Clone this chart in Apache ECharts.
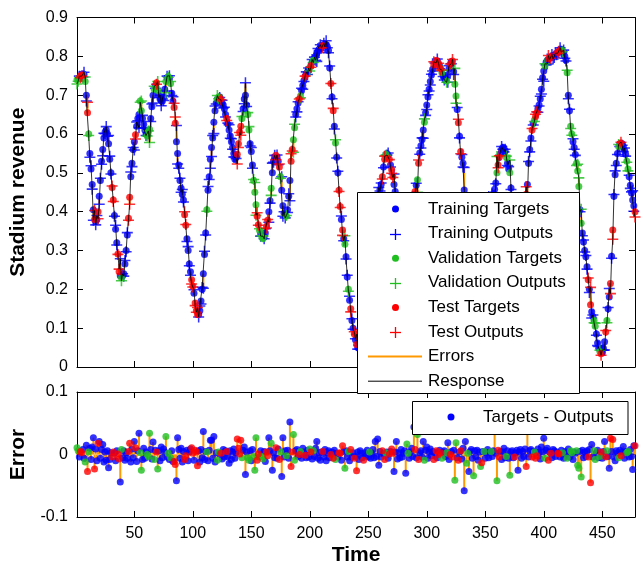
<!DOCTYPE html>
<html><head><meta charset="utf-8">
<script src="https://cdn.jsdelivr.net/npm/echarts@6/dist/echarts.min.js"></script>
<style>html,body{margin:0;padding:0;background:#fff}#c{width:641px;height:568px}</style>
</head><body><div id="c"></div>
<script>
// Targets (t = 1..478)
const targets = [
0.740,0.742,0.745,0.750,0.752,0.755,0.753,0.735,0.700,0.655,
0.600,0.550,0.510,0.470,0.405,0.380,0.375,0.380,0.400,0.440,
0.480,0.530,0.560,0.590,0.605,0.610,0.600,0.575,0.535,0.500,
0.462,0.430,0.390,0.355,0.320,0.291,0.245,0.235,0.230,0.235,
0.240,0.265,0.300,0.340,0.383,0.437,0.490,0.525,0.560,0.580,
0.598,0.620,0.640,0.650,0.685,0.660,0.640,0.625,0.610,0.600,
0.595,0.605,0.612,0.640,0.670,0.700,0.715,0.725,0.732,0.712,
0.700,0.690,0.685,0.685,0.695,0.715,0.735,0.745,0.748,0.742,
0.730,0.705,0.685,0.668,0.628,0.580,0.550,0.520,0.480,0.460,
0.445,0.430,0.392,0.365,0.330,0.300,0.265,0.245,0.225,0.208,
0.190,0.165,0.145,0.135,0.135,0.145,0.170,0.200,0.240,0.290,
0.345,0.405,0.455,0.490,0.535,0.565,0.590,0.630,0.660,0.680,
0.690,0.695,0.695,0.690,0.680,0.675,0.665,0.650,0.640,0.625,
0.610,0.595,0.580,0.565,0.550,0.535,0.540,0.548,0.575,0.605,
0.620,0.640,0.665,0.690,0.700,0.675,0.650,0.610,0.575,0.555,
0.520,0.480,0.450,0.418,0.388,0.366,0.352,0.343,0.335,0.330,
0.335,0.345,0.362,0.378,0.400,0.428,0.460,0.500,0.530,0.540,
0.545,0.540,0.530,0.515,0.490,0.455,0.415,0.396,0.390,0.388,
0.405,0.440,0.480,0.530,0.560,0.585,0.616,0.650,0.665,0.680,
0.690,0.698,0.712,0.725,0.738,0.748,0.755,0.760,0.766,0.771,
0.776,0.785,0.790,0.795,0.800,0.808,0.814,0.818,0.821,0.825,
0.827,0.830,0.832,0.830,0.825,0.815,0.770,0.730,0.695,0.660,
0.620,0.577,0.540,0.500,0.455,0.413,0.380,0.353,0.330,0.316,
0.284,0.232,0.200,0.172,0.150,0.120,0.100,0.085,0.070,0.058,
0.050,0.048,0.052,0.062,0.078,0.098,0.120,0.145,0.170,0.200,
0.230,0.260,0.290,0.320,0.350,0.380,0.410,0.430,0.445,0.458,
0.470,0.490,0.515,0.535,0.548,0.550,0.545,0.535,0.520,0.508,
0.490,0.470,0.452,0.430,0.410,0.390,0.372,0.358,0.348,0.342,
0.345,0.355,0.368,0.382,0.398,0.412,0.425,0.436,0.444,0.452,
0.468,0.482,0.525,0.551,0.570,0.586,0.610,0.630,0.655,0.675,
0.695,0.715,0.735,0.752,0.767,0.778,0.786,0.789,0.788,0.782,
0.775,0.768,0.758,0.752,0.745,0.741,0.736,0.752,0.768,0.780,
0.786,0.788,0.760,0.728,0.698,0.663,0.629,0.594,0.555,0.540,
0.525,0.456,0.420,0.390,0.360,0.330,0.300,0.280,0.262,0.248,
0.238,0.232,0.236,0.250,0.270,0.292,0.320,0.350,0.378,0.400,
0.418,0.428,0.434,0.438,0.440,0.443,0.447,0.458,0.474,0.500,
0.520,0.540,0.550,0.560,0.565,0.564,0.556,0.540,0.525,0.510,
0.500,0.461,0.430,0.405,0.385,0.372,0.366,0.368,0.378,0.390,
0.400,0.410,0.420,0.432,0.445,0.470,0.525,0.560,0.590,0.610,
0.628,0.636,0.645,0.655,0.665,0.675,0.690,0.715,0.745,0.762,
0.775,0.785,0.790,0.793,0.795,0.797,0.800,0.801,0.803,0.805,
0.808,0.810,0.814,0.818,0.818,0.815,0.810,0.800,0.790,0.758,
0.700,0.660,0.620,0.600,0.580,0.565,0.547,0.525,0.505,0.465,
0.405,0.370,0.345,0.322,0.300,0.284,0.258,0.225,0.200,0.160,
0.142,0.130,0.120,0.105,0.085,0.062,0.048,0.040,0.034,0.038,
0.048,0.065,0.090,0.120,0.150,0.180,0.215,0.285,0.353,0.440,
0.495,0.525,0.550,0.568,0.575,0.577,0.575,0.568,0.558,0.548,
0.530,0.510,0.490,0.468,0.448,0.430,0.415,0.400];

// Errors = Targets - Outputs (t = 1..478)
const errors = [
0.011,0.006,-0.004,0.005,0.003,0.008,-0.006,-0.012,0.015,-0.027,
0.004,0.010,-0.008,0.012,0.027,-0.023,0.009,-0.010,0.018,0.021,
-0.006,0.008,0.016,-0.012,0.004,-0.009,0.006,-0.021,-0.008,0.003,
-0.004,0.004,0.002,-0.010,0.006,0.001,-0.007,-0.044,0.008,-0.005,
0.006,-0.009,0.003,-0.006,0.005,0.018,-0.012,0.009,-0.005,0.021,
0.011,-0.011,0.006,0.034,0.003,-0.025,-0.008,0.010,-0.006,0.004,
0.000,-0.003,0.034,0.008,-0.007,0.020,-0.008,0.007,0.004,-0.023,
0.006,-0.010,0.012,-0.005,0.009,0.004,0.029,-0.004,0.002,-0.008,
-0.005,0.006,-0.011,-0.011,-0.016,-0.042,0.027,0.008,-0.006,0.010,
-0.012,0.005,-0.008,-0.002,0.007,-0.010,0.004,0.009,0.011,0.002,
-0.009,0.007,0.004,-0.018,0.006,-0.012,0.008,-0.005,0.037,-0.008,
0.005,0.004,-0.010,0.007,0.023,0.023,-0.006,0.029,-0.012,0.003,
-0.009,0.004,0.001,0.002,-0.007,0.008,-0.004,0.006,0.005,-0.003,
-0.014,0.006,-0.008,0.004,0.009,-0.006,0.003,0.025,0.010,0.001,
0.023,-0.005,0.007,0.012,-0.032,0.004,-0.005,-0.009,0.006,-0.010,
0.008,-0.003,-0.025,0.027,-0.009,0.001,-0.004,0.006,-0.003,-0.007,
0.005,-0.011,0.004,-0.002,0.027,0.006,0.018,-0.025,0.003,-0.005,
0.011,-0.006,0.009,-0.008,0.004,-0.035,0.027,-0.004,0.006,-0.002,
0.007,-0.006,0.052,-0.019,0.004,0.032,-0.009,0.006,0.008,-0.003,
0.000,0.005,-0.006,0.010,0.003,-0.001,-0.005,0.007,-0.004,0.009,
0.004,-0.007,0.006,-0.003,0.010,0.021,-0.006,0.003,-0.009,0.004,
0.005,-0.004,0.008,-0.010,0.003,0.006,-0.005,0.000,0.004,-0.006,
0.007,-0.008,0.002,-0.004,0.003,0.002,-0.009,0.014,0.005,-0.022,
0.006,-0.004,0.005,-0.010,0.008,-0.004,0.003,-0.006,-0.003,-0.026,
0.004,-0.008,0.006,0.002,-0.005,-0.009,0.003,-0.002,0.007,-0.004,
0.004,-0.006,0.002,0.008,-0.005,0.021,-0.003,0.025,-0.017,0.005,
-0.004,0.006,0.002,-0.008,0.003,0.004,-0.006,0.001,0.005,0.009,
0.002,-0.027,0.004,0.021,-0.007,0.003,-0.005,0.008,-0.004,0.002,
0.006,-0.030,0.017,0.002,-0.006,0.004,0.010,-0.003,0.044,0.008,
-0.005,0.032,-0.008,0.003,0.006,-0.004,0.021,-0.009,0.007,0.012,
-0.006,0.004,0.009,-0.002,0.005,-0.008,0.003,0.006,-0.005,0.000,
0.007,0.003,-0.006,0.004,0.006,-0.003,0.003,0.019,-0.008,0.000,
0.005,-0.004,0.007,-0.041,0.019,-0.005,-0.009,0.004,0.006,-0.007,
0.010,-0.058,0.021,-0.014,0.002,-0.027,0.005,0.008,-0.006,-0.034,
0.006,-0.003,0.007,-0.009,0.004,-0.019,-0.013,0.005,0.005,-0.006,
0.003,0.008,-0.005,0.004,0.005,-0.003,0.006,0.040,0.002,-0.042,
0.007,-0.004,0.005,-0.008,0.004,0.010,-0.005,-0.003,0.006,-0.006,
-0.033,0.004,0.006,-0.005,-0.004,0.003,0.007,-0.025,0.004,0.008,
-0.006,0.005,-0.003,0.009,-0.019,0.037,-0.004,0.006,0.008,-0.004,
0.005,0.004,-0.006,-0.002,0.009,0.003,-0.007,0.012,0.004,0.026,
-0.006,0.007,0.010,-0.009,0.004,0.002,-0.005,0.008,0.006,-0.003,
0.004,0.002,0.001,-0.004,0.007,0.003,-0.006,0.005,0.002,-0.006,
0.009,-0.004,0.006,0.003,-0.008,0.004,0.002,0.006,-0.017,-0.022,
0.005,-0.036,0.007,-0.005,0.004,-0.003,0.006,-0.004,0.008,-0.045,
0.016,-0.004,0.006,-0.008,0.003,0.007,-0.005,-0.003,0.004,-0.006,
0.005,0.021,-0.004,0.006,-0.003,-0.022,0.026,0.005,0.024,-0.004,
-0.010,0.006,0.003,-0.005,0.007,-0.002,0.004,0.013,-0.006,0.005,
0.003,0.005,-0.004,0.008,-0.003,-0.024,0.014,0.014];

// Time steps used for validation and test (the rest are training)
const valIdx = [1,2,8,11,39,55,56,61,62,63,67,70,77,79,81,112,121,122,142,147,148,152,153,154,157,159,160,167,175,180,186,187,192,200,203,222,230,233,251,265,283,284,292,298,313,317,324,325,334,335,340,346,349,355,360,368,371,392,401,416,420,423,424,428,429,430,432,443,444,448,454,464,471,472];
const testIdx = [4,5,10,16,19,31,32,36,37,45,46,51,69,84,85,93,94,99,100,102,103,104,124,129,138,139,140,141,155,156,163,164,171,174,184,185,191,196,201,211,218,220,225,226,228,235,238,240,246,262,264,268,270,271,290,293,306,308,310,312,320,322,327,329,347,361,362,375,385,390,393,394,404,406,412,413,438,440,449,453,457,459,466,478];

const xTicks = [50,100,150,200,250,300,350,400,450];
const legendLabels = ['Training Targets','Training Outputs','Validation Targets','Validation Outputs','Test Targets','Test Outputs','Errors','Response'];
const errLegendLabel = 'Targets - Outputs';

const FONT = "'Liberation Sans', Arial, Helvetica, sans-serif";
const C = {train:'#0000ff', val:'#1fbf1f', test:'#ff0000', err:'#ff9900'};
const PLUS = 'path://M4.3,0H5.7V4.3H10V5.7H5.7V10H4.3V5.7H0V4.3H4.3Z';

const rows = targets.map((y, i) => {
  const t = i + 1, e = errors[i];
  return {t, y, e, o: +(y - e).toFixed(4),
    set: testIdx.includes(t) ? 'test' : (valIdx.includes(t) ? 'val' : 'train')};
});
const pick = s => rows.filter(r => r.set === s);

function xAxisDef(grid, pos, labels, name) {
  return {
    type: 'value', gridIndex: grid, position: pos, min: 1, max: 478,
    axisLine: {show: true, onZero: false, lineStyle: {color: '#000', width: 1}},
    axisTick: {show: true, inside: true, length: 6, customValues: xTicks, lineStyle: {color: '#000'}},
    axisLabel: labels ? {show: true, customValues: xTicks, margin: 9, color: '#000', fontSize: 16, fontFamily: FONT} : {show: false},
    splitLine: {show: false},
    name: name || '', nameLocation: 'middle', nameGap: 28,
    nameTextStyle: {color: '#000', fontSize: 21, fontWeight: 'bold', fontFamily: FONT}
  };
}
function yAxisDef(grid, pos, min, max, labels, name) {
  return {
    type: 'value', gridIndex: grid, position: pos, min, max, interval: 0.1,
    axisLine: {show: true, onZero: false, lineStyle: {color: '#000', width: 1}},
    axisTick: {show: true, inside: true, length: 6, lineStyle: {color: '#000'}},
    axisLabel: labels ? {show: true, margin: 9, color: '#000', fontSize: 16, fontFamily: FONT} : {show: false},
    splitLine: {show: false},
    name: name || '', nameLocation: 'middle', nameGap: 48,
    nameTextStyle: {color: '#000', fontSize: 21, fontWeight: 'bold', fontFamily: FONT}
  };
}

const series = [];
// Errors in response plot
series.push({
  type: 'custom', name: 'Errors', xAxisIndex: 0, yAxisIndex: 0,
  data: rows.map(r => [r.t, r.y, r.o]), encode: {x: 0, y: [1, 2]},
  renderItem: (p, api) => {
    const a = api.coord([api.value(0), api.value(1)]);
    const b = api.coord([api.value(0), api.value(2)]);
    return {type: 'line', shape: {x1: a[0], y1: a[1], x2: b[0], y2: b[1]}, style: {stroke: C.err, lineWidth: 2}};
  }
});
[['train','Training'],['val','Validation'],['test','Test']].forEach(([s, lab]) => {
  const d = pick(s);
  series.push({type: 'scatter', name: lab + ' Targets', xAxisIndex: 0, yAxisIndex: 0,
    symbol: 'circle', symbolSize: 7, itemStyle: {color: C[s]},
    data: d.map(r => [r.t, r.y])});
  series.push({type: 'scatter', name: lab + ' Outputs', xAxisIndex: 0, yAxisIndex: 0,
    symbol: PLUS, symbolSize: 11, itemStyle: {color: C[s]},
    data: d.map(r => [r.t, r.o])});
});
series.push({type: 'line', name: 'Response', xAxisIndex: 0, yAxisIndex: 0,
  showSymbol: false, symbol: 'none', lineStyle: {color: '#000', width: 0.8},
  data: rows.map(r => [r.t, r.o])});

// Error plot
series.push({
  type: 'custom', name: 'Error stems', xAxisIndex: 2, yAxisIndex: 2,
  data: rows.map(r => [r.t, 0, r.e]), encode: {x: 0, y: [1, 2]},
  renderItem: (p, api) => {
    const a = api.coord([api.value(0), api.value(1)]);
    const b = api.coord([api.value(0), api.value(2)]);
    return {type: 'line', shape: {x1: a[0], y1: a[1], x2: b[0], y2: b[1]}, style: {stroke: C.err, lineWidth: 2}};
  }
});
['train','val','test'].forEach(s => {
  series.push({type: 'scatter', name: 'Targets - Outputs ' + s, xAxisIndex: 2, yAxisIndex: 2,
    symbol: 'circle', symbolSize: 7, itemStyle: {color: C[s]},
    data: pick(s).map(r => [r.t, r.e])});
});

// Legends drawn as graphic elements
const g = [];
const LX = 357.5, LY = 192.5, LW = 222, LH = 201;
g.push({type: 'rect', z: 100, shape: {x: LX, y: LY, width: LW, height: LH}, style: {fill: '#fff', stroke: '#000', lineWidth: 1}});
const icx = 395.5, tx = 428;
const rowY = i => 209 + i * 24.6;
const iconColors = [C.train, C.train, C.val, C.val, C.test, C.test];
legendLabels.forEach((lab, i) => {
  const y = rowY(i);
  if (i < 6) {
    if (i % 2 === 0) {
      g.push({type: 'circle', z: 101, shape: {cx: icx, cy: y, r: 3.5}, style: {fill: iconColors[i]}});
    } else {
      const yc = Math.round(y) + 0.5;
      g.push({type: 'line', z: 101, shape: {x1: icx - 5.5, y1: yc, x2: icx + 5.5, y2: yc}, style: {stroke: iconColors[i], lineWidth: 1.3}});
      g.push({type: 'line', z: 101, shape: {x1: icx, y1: yc - 5.5, x2: icx, y2: yc + 5.5}, style: {stroke: iconColors[i], lineWidth: 1.3}});
    }
  } else if (i === 6) {
    g.push({type: 'line', z: 101, shape: {x1: 368, y1: y, x2: 422, y2: y}, style: {stroke: C.err, lineWidth: 2}});
  } else {
    g.push({type: 'line', z: 101, shape: {x1: 368, y1: y, x2: 422, y2: y}, style: {stroke: '#000', lineWidth: 1}});
  }
  g.push({type: 'text', z: 101, x: tx, y: y, style: {text: lab, fill: '#000', fontSize: 17, fontFamily: FONT, verticalAlign: 'middle', align: 'left'}});
});
g.push({type: 'rect', z: 100, shape: {x: 412.5, y: 401.5, width: 215.5, height: 33}, style: {fill: '#fff', stroke: '#000', lineWidth: 1}});
g.push({type: 'circle', z: 101, shape: {cx: 451, cy: 417, r: 3.5}, style: {fill: C.train}});
g.push({type: 'text', z: 101, x: 483, y: 417.5, style: {text: errLegendLabel, fill: '#000', fontSize: 17, fontFamily: FONT, verticalAlign: 'middle', align: 'left'}});

const chart = echarts.init(document.getElementById('c'), null, {renderer: 'canvas'});
chart.setOption({
  animation: false,
  backgroundColor: '#fff',
  grid: [
    {left: 77, top: 17.5, width: 558, height: 349.5},
    {left: 77, top: 392, width: 558, height: 125}
  ],
  xAxis: [
    xAxisDef(0, 'bottom', false),
    xAxisDef(0, 'top', false),
    xAxisDef(1, 'bottom', true, 'Time'),
    xAxisDef(1, 'top', false)
  ],
  yAxis: [
    yAxisDef(0, 'left', 0, 0.9, true, 'Stadium revenue'),
    yAxisDef(0, 'right', 0, 0.9, false),
    yAxisDef(1, 'left', -0.1, 0.1, true, 'Error'),
    yAxisDef(1, 'right', -0.1, 0.1, false)
  ],
  series,
  graphic: g
});
</script></body></html>
